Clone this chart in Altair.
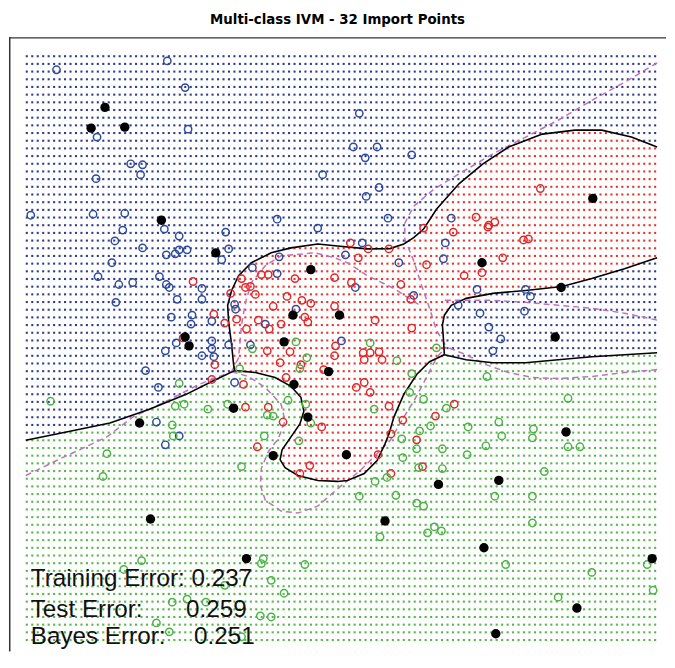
import numpy as np
import pandas as pd
import altair as alt

# ---------------- layout (page-pixel based coordinates) ----------------
W, H = 664, 621
X0, Y0 = 8, 39

# ---------------- grid of prediction dots ----------------
GRID_X = (26.0, 661.0, 116)
GRID_Y = (58.3, 648.3, 77)

# ---------------- IVM (black) decision boundary pieces ----------------
black_left = [(25, 446.5), (66, 438), (110, 429), (150, 415), (187, 400), (213, 387), (236, 376)]
black_redtop = [(236, 376), (235, 370), (233, 350), (230, 327), (229, 310), (233, 295), (240, 280),
                (253, 267), (273, 257), (293, 252), (320, 248), (340, 250), (370, 253), (393, 252.7),
                (407, 248), (417, 241.7), (427, 233), (440, 213), (463, 187), (487, 167), (513, 150),
                (547, 137), (580, 133), (607, 133), (637, 140), (663, 150)]
black_redgreen = [(236, 376), (257, 378), (277, 383), (293, 392), (303, 403), (306, 417), (302, 430),
                  (293, 443), (284, 456), (282, 466), (287, 474), (300, 482), (320, 487), (340, 488),
                  (350, 487), (367, 480), (380, 467), (388, 450), (392, 440), (397, 423), (407, 400),
                  (420, 380), (433, 367), (448, 360)]
black_pocket_top = [(448, 360), (447, 343), (446, 330), (448, 320), (455, 310), (470, 303), (497, 298),
                    (530, 295), (567, 291), (597, 283), (630, 273), (663, 262)]
black_pocket_bottom = [(448, 360), (470, 365), (497, 368), (530, 368), (563, 365), (597, 362), (663, 358)]

# ---------------- Bayes (dashed) boundary pieces ----------------
bayes_left = [(25, 482), (60, 465), (107, 443), (133, 423), (167, 407), (200, 390), (233, 377)]
bayes_lobe = [(233, 377), (250, 382), (267, 393), (283, 410), (287, 427), (280, 445), (270, 458),
              (263, 475), (262, 492), (267, 507), (283, 518), (300, 520), (320, 513), (343, 493),
              (363, 477), (380, 460), (393, 447), (407, 423), (417, 407), (430, 383), (440, 363), (450, 352)]
bayes_upper = [(233, 377), (240, 363), (243, 330), (247, 307), (253, 287), (267, 270), (283, 260),
               (317, 257), (337, 262), (350, 267), (370, 280), (397, 293), (423, 310)]
bayes_diag = [(663, 65), (633, 83), (613, 94), (597, 103), (563, 123), (530, 140), (497, 157), (463, 177),
              (437, 193), (417, 210), (408, 227), (408, 243), (417, 265), (425, 290), (432, 310),
              (440, 335), (450, 352)]
bayes_mid = [(663, 325), (630, 318), (597, 313), (563, 310), (530, 307), (497, 305), (470, 305), (445, 305)]
bayes_low = [(663, 375), (630, 378), (597, 382), (563, 384), (537, 383), (513, 378), (490, 370),
             (470, 360), (450, 352)]

# ---------------- training points ----------------
blue_pts = [(168, 63), (56, 72), (186, 90), (189, 132), (97, 140), (131, 167), (143, 168), (141, 178),
            (96, 182), (325, 178), (30, 219), (93, 218), (125, 217), (279, 223), (320, 232), (123, 234),
            (165, 233), (227, 236), (180, 240), (362, 116), (356, 150), (380, 150), (368, 161), (415, 158),
            (382, 191), (369, 200), (391, 222), (455, 222), (115, 245), (143, 252), (167, 259), (176, 258),
            (180, 254), (188, 254), (230, 253), (223, 264), (112, 267), (98, 281), (119, 289), (133, 287),
            (160, 281), (167, 289), (170, 292), (203, 293), (178, 304), (203, 304), (116, 307), (254, 272),
            (281, 261), (279, 278), (236, 309), (237, 314), (172, 322), (193, 320), (192, 329), (213, 326),
            (267, 329), (298, 314), (213, 346), (177, 348), (230, 350), (252, 350), (166, 356), (213, 354),
            (203, 361), (215, 362), (146, 376), (159, 393), (236, 388), (157, 428), (180, 442), (166, 451),
            (365, 247), (348, 259), (449, 247), (447, 263), (402, 267), (358, 292), (417, 300), (481, 294),
            (530, 294), (535, 301), (462, 310), (484, 318), (529, 316), (493, 332), (505, 344), (497, 356),
            (344, 346)]
red_pts = [(545, 192), (480, 221), (493, 229), (499, 226), (457, 236), (427, 232), (194, 286), (243, 283),
           (263, 279), (270, 279), (297, 283), (337, 282), (247, 292), (252, 291), (232, 298), (257, 299),
           (289, 301), (304, 305), (313, 308), (275, 311), (337, 311), (215, 319), (226, 328), (238, 324),
           (260, 325), (283, 329), (307, 322), (310, 327), (248, 334), (271, 334), (184, 343), (269, 356),
           (292, 357), (338, 351), (216, 370), (282, 368), (303, 370), (326, 375), (337, 361), (213, 385),
           (245, 390), (288, 383), (270, 413), (247, 413), (285, 428), (324, 433), (353, 247), (371, 253),
           (392, 253), (492, 231), (528, 244), (533, 243), (361, 262), (430, 269), (507, 262), (354, 287),
           (404, 289), (468, 280), (486, 277), (414, 304), (378, 325), (415, 333), (366, 358), (373, 358),
           (382, 357), (367, 365), (385, 365), (367, 388), (359, 393), (373, 398), (392, 412), (458, 410),
           (439, 422), (406, 426), (420, 446), (259, 453), (312, 472), (302, 480), (394, 440), (381, 461),
           (426, 473), (394, 480)]
green_pts = [(50, 407), (298, 347), (254, 354), (309, 363), (302, 374), (241, 374), (176, 412), (185, 410),
             (209, 415), (229, 410), (290, 406), (308, 410), (269, 421), (275, 422), (173, 431), (174, 442),
             (266, 442), (313, 429), (301, 447), (180, 389), (373, 348), (400, 366), (440, 353), (415, 379),
             (491, 382), (413, 398), (427, 405), (377, 415), (450, 414), (573, 404), (503, 428), (472, 433),
             (434, 432), (423, 437), (538, 435), (506, 442), (537, 444), (405, 445), (107, 460), (103, 483),
             (243, 473), (142, 568), (124, 577), (263, 571), (265, 566), (273, 588), (307, 572), (286, 601),
             (226, 593), (173, 610), (188, 607), (207, 610), (262, 624), (273, 625), (157, 631), (170, 640),
             (243, 645), (420, 455), (446, 455), (490, 452), (573, 453), (585, 453), (471, 461), (406, 464),
             (422, 474), (446, 475), (549, 478), (378, 488), (390, 484), (362, 503), (399, 502), (420, 510),
             (427, 513), (499, 503), (537, 503), (537, 530), (438, 534), (431, 540), (445, 538), (383, 544),
             (510, 572), (597, 580), (653, 572), (659, 598), (563, 605)]
import_pts = [(105, 110), (91, 131), (125, 130), (162, 224), (217, 257), (313, 274), (295, 320), (286, 347),
              (331, 377), (342, 320), (186, 342), (190, 351), (296, 390), (235, 414), (310, 423), (140, 429),
              (486, 267), (560, 342), (566, 292), (571, 438), (598, 202), (275, 462), (151, 526), (248, 566),
              (349, 461), (442, 491), (503, 487), (388, 528), (488, 555), (658, 566), (582, 616), (500, 642)]

# ---------------- annotation text ----------------
err_labels = ["Training Error: 0.237", "Test Error:", "0.259", "Bayes Error:", "0.251"]
err_x = [30, 30, 187, 30, 195]
err_y = [594, 625, 625, 652, 652]

TITLE = "Multi-class IVM - 32 Import Points"

# ---------------- build tables ----------------
def inside(px, py, poly):
    p = np.asarray(poly, dtype=float)
    x1, y1 = p[:, 0], p[:, 1]
    x2, y2 = np.roll(x1, -1), np.roll(y1, -1)
    px = px[:, None]
    py = py[:, None]
    cross = ((y1 > py) != (y2 > py)) & (px < (x2 - x1) * (py - y1) / (y2 - y1 + 1e-12) + x1)
    return cross.sum(axis=1) % 2 == 1

gx = np.linspace(*GRID_X)
gy = np.linspace(*GRID_Y)
GX, GY = np.meshgrid(gx, gy)
GX, GY = GX.ravel(), GY.ravel()

red_poly = black_redtop + [(700, 150), (700, 262)] + black_pocket_top[::-1] + black_redgreen[::-1][1:]
pocket_poly = black_pocket_top + [(700, 262), (700, 358)] + black_pocket_bottom[::-1][:-1]
green_poly = [(0, 446.5)] + black_left + black_redgreen[1:] + black_pocket_bottom[1:] + \
    [(700, 358), (700, 700), (0, 700)]

cls = np.array(["blue"] * len(GX), dtype=object)
cls[inside(GX, GY, red_poly)] = "red"
cls[inside(GX, GY, green_poly)] = "green"
cls[inside(GX, GY, pocket_poly)] = "blue"
grid = pd.DataFrame({"x": GX, "y": GY, "cls": cls})

def seg_table(segs):
    rows = []
    for name, pts in segs.items():
        for i, (x, y) in enumerate(pts):
            rows.append({"seg": name, "idx": i, "x": x, "y": y})
    return pd.DataFrame(rows)

solid = seg_table({"a": black_left, "b": black_redtop, "c": black_redgreen,
                   "d": black_pocket_top, "e": black_pocket_bottom})
dashed = seg_table({"a": bayes_left, "b": bayes_lobe, "c": bayes_upper,
                    "d": bayes_diag, "e": bayes_mid, "f": bayes_low})

pts = pd.DataFrame(
    [{"x": x, "y": y, "cls": "blue"} for x, y in blue_pts]
    + [{"x": x, "y": y, "cls": "red"} for x, y in red_pts]
    + [{"x": x, "y": y, "cls": "green"} for x, y in green_pts]
)
imp = pd.DataFrame(import_pts, columns=["x", "y"])
txt = pd.DataFrame({"label": err_labels, "x": err_x, "y": err_y})

# ---------------- chart ----------------
xs = alt.Scale(domain=[X0, X0 + W], nice=False, zero=False)
ys = alt.Scale(domain=[Y0, Y0 + H], nice=False, zero=False, reverse=True)
X = alt.X("x:Q", scale=xs, axis=None)
Y = alt.Y("y:Q", scale=ys, axis=None)

dots = alt.Chart(grid).mark_square(size=4.5, opacity=1, strokeWidth=0).encode(
    x=X, y=Y,
    color=alt.Color("cls:N", scale=alt.Scale(domain=["blue", "red", "green"],
                                             range=["#2F3E94", "#E8352E", "#55B84A"]), legend=None),
)
bayes = alt.Chart(dashed).mark_line(color="#C070C0", strokeWidth=1.5, strokeDash=[6, 4]).encode(
    x=X, y=Y, detail="seg:N", order="idx:Q")
ivm = alt.Chart(solid).mark_line(color="black", strokeWidth=1.6).encode(
    x=X, y=Y, detail="seg:N", order="idx:Q")
circles = alt.Chart(pts).mark_point(shape="circle", filled=False, size=55, strokeWidth=1.5, opacity=1).encode(
    x=X, y=Y,
    color=alt.Color("cls:N", scale=alt.Scale(domain=["blue", "red", "green"],
                                             range=["#2E4A9E", "#E2282A", "#4DB347"]), legend=None),
)
imports = alt.Chart(imp).mark_circle(size=90, color="black", opacity=1).encode(x=X, y=Y)
texts = alt.Chart(txt).mark_text(align="left", baseline="alphabetic", font="Liberation Sans",
                                 fontSize=24.5, color="#111111").encode(x=X, y=Y, text="label:N")
frame_df = pd.DataFrame({"a": [0]})
top_line = alt.Chart(frame_df).mark_rule(color="#333333", strokeWidth=1.5).encode(
    x=alt.value(0), x2=alt.value(W), y=alt.value(0.75))
left_line = alt.Chart(frame_df).mark_rule(color="#333333", strokeWidth=1.5).encode(
    x=alt.value(0.75), y=alt.value(0), y2=alt.value(H))

chart = alt.layer(dots, bayes, ivm, circles, imports, texts, top_line, left_line).resolve_scale(
    color="independent"
).properties(
    width=W, height=H, padding=0,
    title=alt.TitleParams(TITLE, font="DejaVu Sans Condensed", fontSize=15, fontWeight="bold",
                          anchor="middle", offset=10, color="black"),
).configure_view(strokeWidth=0)

chart.save("out.html", embed_options={"renderer": "svg", "actions": False})
